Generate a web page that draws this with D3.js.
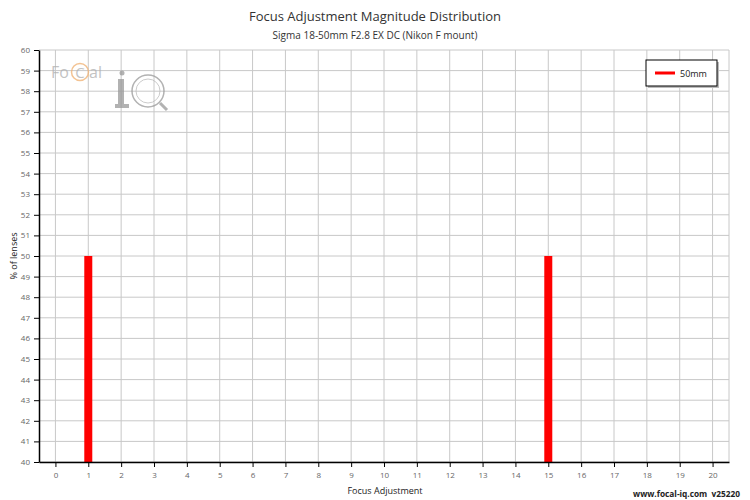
<!DOCTYPE html>
<html>
<head>
<meta charset="utf-8">
<script src="https://d3js.org/d3.v7.min.js"></script>
<style>
  body { margin: 0; background: #fff; }
  text { font-family: "Open Sans", sans-serif; }
</style>
</head>
<body>
<svg id="chart" width="750" height="500"></svg>
<script>
// data
var adjustments = [1, 15];
var percents = [50, 50];
var seriesName = "50mm";
var xTicks = d3.range(0, 21);
var yTicks = d3.range(40, 61);

var svg = d3.select("#chart");
var m = {left: 39, right: 21, top: 50, bottom: 38};
var w = 750 - m.left - m.right, h = 500 - m.top - m.bottom;

var x = d3.scaleLinear().domain([-0.5, 20.5]).range([m.left, m.left + w]);
var y = d3.scaleLinear().domain([40, 60]).range([m.top + h, m.top]);

// grid
svg.append("g").selectAll("line").data(xTicks.concat([20.5])).join("line")
  .attr("x1", d => x(d)).attr("x2", d => x(d))
  .attr("y1", m.top).attr("y2", m.top + h)
  .attr("stroke", "#c8c8c8").attr("stroke-width", 1);
svg.append("g").selectAll("line").data(yTicks).join("line")
  .attr("x1", m.left).attr("x2", m.left + w)
  .attr("y1", d => y(d)).attr("y2", d => y(d))
  .attr("stroke", "#c8c8c8").attr("stroke-width", 1);

// watermark logo
var logo = svg.append("g").attr("opacity", 0.75);
logo.append("text").attr("x", 51).attr("y", 78).attr("font-size", 16)
  .attr("fill", "#b0b0b0").text("Fo");
logo.append("circle").attr("cx", 80).attr("cy", 72).attr("r", 8.5)
  .attr("fill", "none").attr("stroke", "#f0b070").attr("stroke-width", 1.5);
logo.append("text").attr("x", 80).attr("y", 78).attr("text-anchor", "middle").attr("font-size", 15)
  .attr("fill", "#b0b0b0").text("C");
logo.append("text").attr("x", 89).attr("y", 78).attr("font-size", 16)
  .attr("fill", "#b0b0b0").text("al");
logo.append("circle").attr("cx", 122).attr("cy", 73).attr("r", 2.5).attr("fill", "#999");
logo.append("rect").attr("x", 118).attr("y", 79).attr("width", 6).attr("height", 28).attr("fill", "#999");
logo.append("rect").attr("x", 115).attr("y", 104).attr("width", 14).attr("height", 4).attr("fill", "#999");
logo.append("circle").attr("cx", 148).attr("cy", 91).attr("r", 16)
  .attr("fill", "none").attr("stroke", "#999").attr("stroke-width", 1.5);
logo.append("circle").attr("cx", 148).attr("cy", 91).attr("r", 12)
  .attr("fill", "none").attr("stroke", "#bbb").attr("stroke-width", 1);
logo.append("line").attr("x1", 160).attr("y1", 103).attr("x2", 167).attr("y2", 110)
  .attr("stroke", "#999").attr("stroke-width", 3);

// bars
svg.append("g").selectAll("rect").data(adjustments).join("rect")
  .attr("x", d => x(d) - 4).attr("width", 8)
  .attr("y", (d, i) => y(percents[i]))
  .attr("height", (d, i) => y(40) - y(percents[i]))
  .attr("fill", "#ff0000");

// axes
var xAxis = svg.append("g").attr("transform", "translate(0," + (m.top + h) + ")")
  .call(d3.axisBottom(x).tickValues(xTicks).tickSize(5).tickPadding(5).tickSizeOuter(0));
var yAxis = svg.append("g").attr("transform", "translate(" + m.left + ",0)")
  .call(d3.axisLeft(y).tickValues(yTicks).tickSize(5).tickPadding(4).tickSizeOuter(0));
[xAxis, yAxis].forEach(function(a) {
  a.select(".domain").attr("stroke", "#000").attr("stroke-width", 1.5);
  a.selectAll(".tick line").attr("stroke", "#000");
  a.selectAll(".tick text").attr("fill", "#666").attr("font-size", 8)
    .attr("font-family", "Open Sans, sans-serif");
});

// titles
svg.append("text").attr("x", 375).attr("y", 21).attr("text-anchor", "middle")
  .attr("font-size", 13).attr("fill", "#333").text("Focus Adjustment Magnitude Distribution");
svg.append("text").attr("x", 375).attr("y", 39).attr("text-anchor", "middle")
  .attr("font-size", 10).attr("fill", "#333").text("Sigma 18-50mm F2.8 EX DC (Nikon F mount)");
svg.append("text").attr("x", 385).attr("y", 494).attr("text-anchor", "middle")
  .attr("font-size", 9).attr("fill", "#222").text("Focus Adjustment");
svg.append("text").attr("transform", "translate(17,256) rotate(-90)").attr("text-anchor", "middle")
  .attr("font-size", 9).attr("fill", "#222").text("% of lenses");
svg.append("text").attr("x", 740).attr("y", 497).attr("text-anchor", "end")
  .attr("font-size", 8.3).attr("font-weight", "bold").attr("fill", "#222")
  .text("www.focal-iq.com  v25220").attr("xml:space", "preserve");

// legend
var lg = svg.append("g").attr("transform", "translate(646,60)");
lg.append("rect").attr("x", 2).attr("y", 2).attr("width", 71).attr("height", 26).attr("fill", "#bbb");
lg.append("rect").attr("width", 71).attr("height", 26).attr("fill", "#fff").attr("stroke", "#000");
lg.append("line").attr("x1", 9).attr("x2", 29).attr("y1", 13).attr("y2", 13)
  .attr("stroke", "#ff0000").attr("stroke-width", 3);
lg.append("text").attr("x", 34).attr("y", 16.5).attr("font-size", 9).attr("fill", "#222").text(seriesName);
</script>
</body>
</html>
